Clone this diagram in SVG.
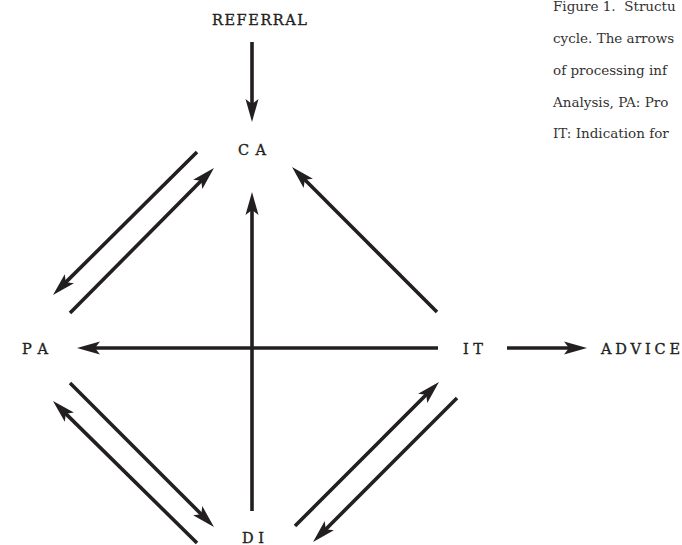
<svg xmlns="http://www.w3.org/2000/svg" width="682" height="545" viewBox="0 0 682 545">
<style>
.lbl{font-family:"DejaVu Serif","Liberation Serif",serif;font-size:14.5px;fill:#231f20;stroke:#231f20;stroke-width:0.35;}
.cap{font-family:"DejaVu Serif","Liberation Serif",serif;font-size:13.5px;fill:#333333;}
.arr{stroke:#231f20;stroke-width:3.6;fill:none;marker-end:url(#ah);}
</style>
<defs>
<marker id="ah" markerUnits="userSpaceOnUse" viewBox="0 -10 30 20" markerWidth="30" markerHeight="20" refX="13" refY="0" orient="auto">
<path d="M0,-6.5 L23,0 L0,6.5 L5,0 Z" fill="#231f20"/>
</marker>
</defs>
<g id="REFERRAL"><text class="lbl" x="212" y="25" textLength="95" lengthAdjust="spacing">REFERRAL</text></g>
<g id="CA"><text class="lbl" x="238" y="155" textLength="28" lengthAdjust="spacing">CA</text></g>
<g id="PA"><text class="lbl" x="22" y="354" textLength="26" lengthAdjust="spacing">PA</text></g>
<g id="IT"><text class="lbl" x="463" y="354" textLength="20" lengthAdjust="spacing">IT</text></g>
<g id="ADVICE"><text class="lbl" x="601" y="354" textLength="79" lengthAdjust="spacing">ADVICE</text></g>
<g id="DI"><text class="lbl" x="242" y="543" textLength="22" lengthAdjust="spacing">DI</text></g>
<g id="connectors">
<line class="arr" x1="252" y1="42" x2="252" y2="112"/>
<line class="arr" x1="252" y1="511" x2="252" y2="202"/>
<line class="arr" x1="438" y1="348" x2="87" y2="348"/>
<line class="arr" x1="507" y1="348" x2="577" y2="348"/>
<line class="arr" x1="437" y1="312" x2="299.1" y2="174.1"/>
<line class="arr" x1="197" y1="152" x2="60.1" y2="287.9"/>
<line class="arr" x1="70" y1="313" x2="206.9" y2="175.1"/>
<line class="arr" x1="70" y1="383" x2="206.9" y2="519.9"/>
<line class="arr" x1="197" y1="543" x2="60.1" y2="408.1"/>
<line class="arr" x1="295" y1="526" x2="431.9" y2="389.1"/>
<line class="arr" x1="457" y1="398" x2="320.1" y2="534.9"/>
</g>
<g id="caption">
<text class="cap" x="553" y="11" xml:space="preserve">Figure 1.  Structu</text>
<text class="cap" x="553" y="43">cycle. The arrows</text>
<text class="cap" x="553" y="75">of processing inf</text>
<text class="cap" x="553" y="106.5">Analysis, PA: Pro</text>
<text class="cap" x="553" y="138">IT: Indication for</text>
</g>
</svg>
